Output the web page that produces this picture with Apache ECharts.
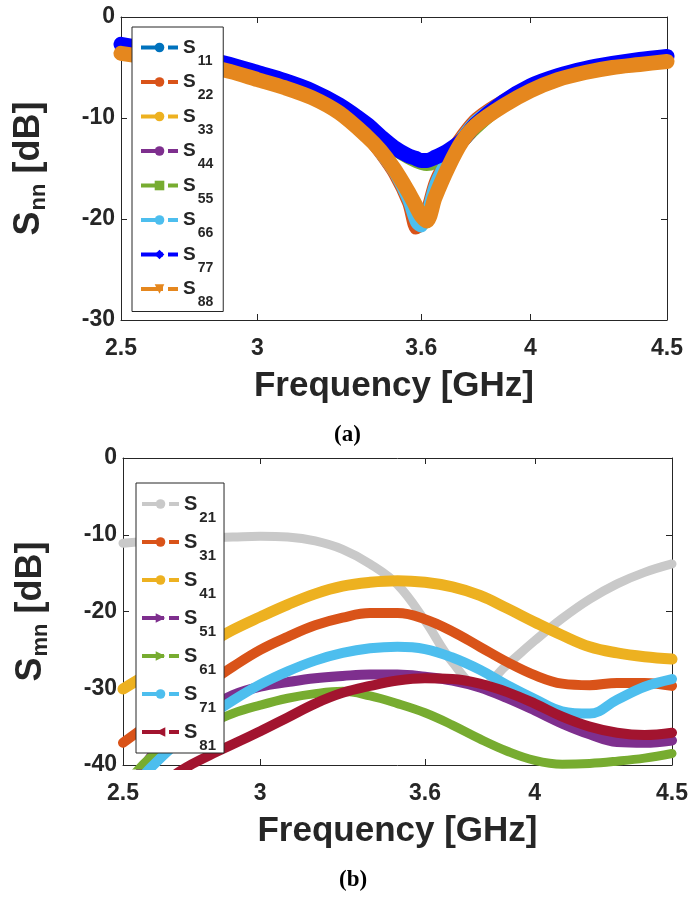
<!DOCTYPE html>
<html>
<head>
<meta charset="utf-8">
<script src="https://cdn.jsdelivr.net/npm/echarts@6/dist/echarts.min.js"></script>
<style>html,body{margin:0;padding:0;background:#fff;}#c{width:691px;height:897px;}</style>
</head>
<body>
<div id="c"></div>
<script>
// ---------- Data: chart (a) reflection coefficients ----------
const freqA = [2.5, 2.6, 2.7, 2.8, 2.9, 3.0, 3.1, 3.2, 3.3, 3.4, 3.45, 3.5, 3.55, 3.58, 3.6, 3.62, 3.65, 3.7, 3.75, 3.8, 3.9, 4.0, 4.1, 4.2, 4.3, 4.4, 4.5];
const s11 = [-3.4, -3.8, -4.2, -4.7, -5.3, -6.0, -6.8, -7.8, -9.3, -11.6, -13.3, -15.2, -17.8, -19.8, -20.6, -19.6, -16.8, -14.0, -12.0, -10.3, -8.4, -7.1, -6.1, -5.4, -4.9, -4.5, -4.2];
const s22 = [-3.5, -3.9, -4.3, -4.8, -5.4, -6.1, -6.9, -7.9, -9.4, -11.9, -13.6, -15.6, -18.4, -21.0, -20.6, -19.0, -16.2, -13.6, -11.6, -10.0, -8.2, -7.0, -6.0, -5.3, -4.9, -4.6, -4.3];
const s33 = [-3.6, -4.0, -4.4, -4.9, -5.5, -6.2, -7.0, -8.0, -9.5, -11.8, -13.4, -15.2, -17.4, -19.0, -20.0, -20.4, -18.0, -15.0, -12.5, -10.7, -8.7, -7.4, -6.3, -5.6, -5.1, -4.8, -4.5];
const s44 = [-2.8, -3.2, -3.7, -4.2, -4.8, -5.5, -6.3, -7.4, -8.8, -10.8, -12.0, -13.1, -13.9, -14.2, -14.4, -14.3, -14.0, -13.3, -12.3, -11.0, -8.7, -6.9, -5.9, -5.2, -4.7, -4.3, -4.0];
const s55 = [-2.8, -3.2, -3.7, -4.2, -4.8, -5.5, -6.3, -7.4, -8.8, -10.8, -12.1, -13.2, -14.0, -14.4, -14.6, -14.7, -14.5, -13.7, -12.5, -11.1, -8.8, -7.0, -6.0, -5.2, -4.7, -4.3, -4.0];
const s66 = [-3.5, -3.9, -4.3, -4.8, -5.4, -6.1, -6.9, -7.9, -9.4, -11.8, -13.5, -15.4, -18.1, -20.4, -20.8, -19.4, -16.5, -13.8, -11.8, -10.2, -8.3, -7.1, -6.1, -5.4, -4.9, -4.6, -4.3];
const s77 = [-2.7, -3.2, -3.7, -4.1, -4.7, -5.5, -6.3, -7.3, -8.7, -10.6, -11.8, -12.9, -13.7, -14.0, -14.2, -14.2, -13.9, -13.2, -12.2, -10.6, -8.4, -6.8, -5.8, -5.1, -4.6, -4.2, -3.9];
const s88 = [-3.6, -4.0, -4.4, -4.8, -5.4, -6.2, -7.0, -8.0, -9.5, -11.8, -13.2, -15.0, -17.2, -18.7, -19.7, -20.2, -17.9, -14.8, -12.3, -10.7, -8.8, -7.3, -6.2, -5.5, -5.0, -4.7, -4.4];

// ---------- Data: chart (b) transmission coefficients ----------
const freqB = [2.5, 2.6, 2.7, 2.8, 2.9, 3.0, 3.1, 3.2, 3.3, 3.4, 3.5, 3.6, 3.7, 3.8, 3.9, 4.0, 4.1, 4.2, 4.3, 4.4, 4.5];
const s21 = [-11.1, -10.8, -10.5, -10.4, -10.3, -10.2, -10.3, -10.8, -11.9, -13.8, -16.5, -21.2, -26.6, -29.8, -26.9, -23.8, -20.9, -18.4, -16.4, -14.9, -13.8];
const s31 = [-37.1, -34.5, -31.9, -29.6, -27.2, -25.0, -23.3, -21.8, -20.8, -20.2, -20.2, -21.0, -22.6, -24.6, -26.6, -28.3, -29.4, -29.6, -29.3, -29.3, -29.7];
const s41 = [-30.1, -28.0, -26.2, -24.4, -22.4, -20.7, -19.1, -17.7, -16.7, -16.2, -16.0, -16.2, -16.8, -17.9, -19.6, -21.4, -23.1, -24.6, -25.4, -25.9, -26.2];
const s51 = [-45.0, -39.0, -35.5, -32.8, -30.9, -29.8, -29.2, -28.7, -28.4, -28.2, -28.2, -28.5, -29.0, -29.9, -31.3, -32.9, -34.6, -36.0, -37.0, -37.1, -36.8];
const s61 = [-43.0, -39.0, -36.7, -34.9, -33.3, -32.2, -31.3, -30.7, -30.4, -31.0, -32.0, -33.2, -34.8, -36.6, -38.2, -39.4, -39.9, -39.8, -39.5, -39.1, -38.5];
const s71 = [-44.5, -40.4, -37.0, -34.0, -31.6, -29.5, -27.8, -26.4, -25.4, -24.8, -24.6, -24.9, -26.0, -27.6, -29.6, -31.4, -33.0, -33.3, -31.5, -29.8, -28.8];
const s81 = [-47.0, -44.0, -41.0, -39.0, -37.3, -35.6, -33.8, -32.0, -30.6, -29.7, -29.0, -28.7, -28.8, -29.4, -30.5, -32.0, -33.7, -35.0, -35.8, -36.1, -35.8];

// ---------- Tick labels ----------
const xTicks = [2.5, 3, 3.6, 4, 4.5];

const namesA = ['S11', 'S22', 'S33', 'S44', 'S55', 'S66', 'S77', 'S88'];
const valuesA = [s11, s22, s33, s44, s55, s66, s77, s88];
const colorsA = ['#0072BD', '#D95319', '#EDB120', '#7E2F8E', '#77AC30', '#4DBEEE', '#0000FF', '#E5871E'];
const symbolsA = ['circle', 'circle', 'circle', 'circle', 'rect', 'circle', 'diamond', 'triangle'];
const rotateA = [0, 0, 0, 0, 0, 0, 0, 180];
const widthA = [11, 11, 11, 11, 11, 11, 15, 15];

const namesB = ['S21', 'S31', 'S41', 'S51', 'S61', 'S71', 'S81'];
const valuesB = [s21, s31, s41, s51, s61, s71, s81];
const colorsB = ['#C9C9C9', '#D95319', '#EDB120', '#7E2F8E', '#77AC30', '#4DBEEE', '#A2142F'];
const symbolsB = ['circle', 'circle', 'circle', 'triangle', 'triangle', 'circle', 'triangle'];
const rotateB = [0, 0, 0, -90, -90, 0, 90];
const widthB = [9, 10, 11, 10, 9, 10, 10];

const FONT = '"Liberation Sans", Arial, sans-serif';
const INK = '#262626';

function pairs(xs, ys) { return xs.map((x, i) => [x, ys[i]]); }

function legendRich(sSize, subSize) {
  const box = 2 * 11 + sSize;
  return {
    s: { fontSize: sSize, fontWeight: 'bold', fontFamily: FONT, color: INK, lineHeight: sSize, padding: [11, 0, 11, 0], verticalAlign: 'middle' },
    sub: { fontSize: subSize, fontWeight: 'bold', fontFamily: FONT, color: INK, lineHeight: subSize, padding: [box - subSize, 0, 0, 2], verticalAlign: 'middle' }
  };
}

function axisNameRich() {
  return {
    s: { fontSize: 36, fontWeight: 'bold', fontFamily: FONT, color: INK, lineHeight: 42, verticalAlign: 'middle' },
    sub: { fontSize: 22, fontWeight: 'bold', fontFamily: FONT, color: INK, lineHeight: 22, padding: [20, 0, 0, 1], verticalAlign: 'middle' }
  };
}

function xAxes(grid) {
  return [
    {
      gridIndex: grid, type: 'value', min: 2.5, max: 4.5, position: 'bottom',
      axisLine: { show: true, onZero: false, lineStyle: { color: INK, width: 1 } },
      axisTick: { show: true, inside: true, length: 6, customValues: xTicks, lineStyle: { color: INK } },
      axisLabel: { show: true, customValues: xTicks, margin: 17, fontSize: 23, fontWeight: 'bold', fontFamily: FONT, color: INK, formatter: v => String(v) },
      splitLine: { show: false },
      name: 'Frequency [GHz]', nameLocation: 'middle', nameGap: 49,
      nameTextStyle: { fontSize: 35, fontWeight: 'bold', fontFamily: FONT, color: INK }
    },
    {
      gridIndex: grid, type: 'value', min: 2.5, max: 4.5, position: 'top',
      axisLine: { show: true, onZero: false, lineStyle: { color: INK, width: 1 } },
      axisTick: { show: true, inside: true, length: 6, customValues: xTicks, lineStyle: { color: INK } },
      axisLabel: { show: false }, splitLine: { show: false }
    }
  ];
}

function yAxes(grid, min, nameText) {
  return [
    {
      gridIndex: grid, type: 'value', min: min, max: 0, interval: 10, position: 'left',
      axisLine: { show: true, onZero: false, lineStyle: { color: INK, width: 1 } },
      axisTick: { show: true, inside: true, length: 6, lineStyle: { color: INK } },
      axisLabel: { show: true, margin: 6, fontSize: 23, fontWeight: 'bold', fontFamily: FONT, color: INK },
      splitLine: { show: false },
      name: nameText, nameLocation: 'middle', nameGap: 71, nameRotate: 90,
      nameTextStyle: { rich: axisNameRich() }
    },
    {
      gridIndex: grid, type: 'value', min: min, max: 0, interval: 10, position: 'right',
      axisLine: { show: true, onZero: false, lineStyle: { color: INK, width: 1 } },
      axisTick: { show: true, inside: true, length: 6, lineStyle: { color: INK } },
      axisLabel: { show: false }, splitLine: { show: false }
    }
  ];
}

const series = [];
namesA.forEach((n, i) => {
  series.push({
    name: n, type: 'line', xAxisIndex: 0, yAxisIndex: 0,
    data: pairs(freqA, valuesA[i]),
    smooth: 0.3, showSymbol: false, symbol: symbolsA[i], symbolRotate: rotateA[i],
    color: colorsA[i],
    lineStyle: { width: widthA[i], color: colorsA[i], cap: 'round', join: 'round' },
    emphasis: { disabled: true }, animation: false, z: 2 + i
  });
});
namesB.forEach((n, i) => {
  series.push({
    name: n, type: 'line', xAxisIndex: 2, yAxisIndex: 2,
    data: pairs(freqB, valuesB[i]),
    smooth: 0.4, showSymbol: false, symbol: symbolsB[i], symbolRotate: rotateB[i],
    color: colorsB[i],
    lineStyle: { width: widthB[i], color: colorsB[i], cap: 'round', join: 'round' },
    emphasis: { disabled: true }, animation: false, z: 2 + i
  });
});

const legendFormatter = name => '{s|S}{sub|' + name.slice(1) + '}';

const option = {
  backgroundColor: '#fff',
  animation: false,
  grid: [
    { left: 121, top: 17, width: 546, height: 303, containLabel: false },
    { left: 123, top: 458, width: 552, height: 307, containLabel: false }
  ],
  title: [
    { text: '(a)', left: 334, top: 424, padding: 0, textStyle: { fontFamily: '"Liberation Serif", "Times New Roman", serif', fontWeight: 'bold', fontSize: 23, color: '#000' } },
    { text: '(b)', left: 339, top: 869, padding: 0, textStyle: { fontFamily: '"Liberation Serif", "Times New Roman", serif', fontWeight: 'bold', fontSize: 23, color: '#000' } }
  ],
  xAxis: [...xAxes(0), ...xAxes(1)],
  yAxis: [...yAxes(0, -30, '{s|S}{sub|nn}{s| [dB]}'), ...yAxes(1, -40, '{s|S}{sub|mn}{s| [dB]}')],
  legend: [
    {
      data: namesA, orient: 'vertical', left: 132, top: 27, padding: [0, 10, 2, 7], itemGap: -6.5,
      itemWidth: 37, itemHeight: 12, selectedMode: false,
      backgroundColor: '#fff', borderColor: INK, borderWidth: 1, borderRadius: 0,
      lineStyle: { width: 4, type: [22, 5], cap: 'butt' },
      formatter: legendFormatter,
      textStyle: { color: INK, rich: legendRich(19, 14) }, z: 10
    },
    {
      data: namesB, orient: 'vertical', left: 136, top: 483, padding: [0, 8, 0, 4], itemGap: -4,
      itemWidth: 37, itemHeight: 12, itemTextGap: 8, selectedMode: false,
      backgroundColor: '#fff', borderColor: INK, borderWidth: 1, borderRadius: 0,
      lineStyle: { width: 4, type: [22, 5], cap: 'butt' },
      formatter: legendFormatter,
      textStyle: { color: INK, rich: legendRich(20, 15) }, z: 10
    }
  ],
  series: series
};

const chart = echarts.init(document.getElementById('c'), null, { renderer: 'canvas' });
chart.setOption(option);
</script>
</body>
</html>
